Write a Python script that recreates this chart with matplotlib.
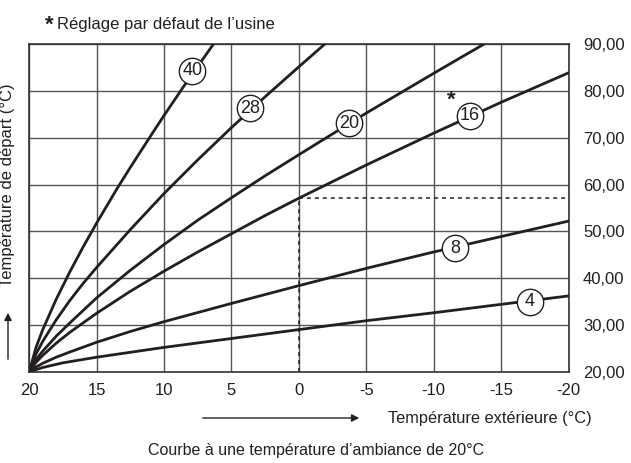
import matplotlib
matplotlib.use("Agg")
import matplotlib.pyplot as plt
from matplotlib.patches import FancyArrowPatch

plt.rcParams['font.family'] = ['Liberation Sans', 'DejaVu Sans']

# Outside temperature (x) and flow temperature (y)
x_40 = [20, 19.5, 19, 18, 17, 16, 15, 13.5, 12.5, 11, 10, 8.5, 7.5, 6.35]
y_40 = [20, 25.2, 29, 35.5, 41.3, 46.7, 51.8, 59.1, 63.7, 70.4, 74.8, 81.2, 85.3, 90]

x_28 = [20, 19.5, 19, 18, 17, 16, 15, 12.5, 10, 7.5, 5, 2.5, 0, -1.9]
y_28 = [20, 23.8, 26.5, 31.1, 35.2, 38.9, 42.3, 50.4, 58.1, 65.3, 72.2, 78.8, 85.2, 90]

x_20 = [20, 19.5, 19, 18, 17, 15, 12.5, 10, 7.5, 5, 2.5, 0, -5, -10, -13.7]
y_20 = [20, 22.6, 24.4, 27.6, 30.4, 35.8, 41.7, 47.2, 52.4, 57.2, 61.9, 66.4, 75.3, 83.8, 90]

x_16 = [20, 19.5, 19, 18, 17, 15, 12.5, 10, 7.5, 5, 2.5, 0, -5, -10, -15, -20]
y_16 = [20, 22, 23.5, 26.1, 28.4, 32.5, 37.2, 41.5, 45.6, 49.5, 53.4, 57.1, 64.2, 71, 77.6, 83.9]

x_8 = [20, 19.5, 19, 18, 17, 15, 12.5, 10, 5, 0, -5, -10, -15, -20]
y_8 = [20, 21, 21.8, 23.1, 24.2, 26.3, 28.6, 30.7, 34.6, 38.4, 42.1, 45.6, 48.9, 52.2]

x_4 = [20, 19, 17.5, 15, 10, 5, 0, -5, -10, -15, -20]
y_4 = [20, 20.9, 21.9, 23.1, 25.2, 27.1, 29, 30.9, 32.6, 34.4, 36.2]

curve_names = ['40', '28', '20', '16', '8', '4']
label_x = [7.9, 3.6, -3.7, -12.7, -11.6, -17.15]
label_y = [84.3, 76.3, 73.1, 74.7, 46.4, 35.0]

# factory default point on curve 16
default_x = 0
default_y = 57.1

x_ticks = [20, 15, 10, 5, 0, -5, -10, -15, -20]
x_ticklabels = ['20', '15', '10', '5', '0', '-5', '-10', '-15', '-20']
y_ticks = [20, 30, 40, 50, 60, 70, 80, 90]
y_ticklabels = ['20,00', '30,00', '40,00', '50,00', '60,00', '70,00', '80,00', '90,00']

ink = '#231f20'

fig = plt.figure(figsize=(6.31, 4.63), dpi=100)
ax = fig.add_axes([0.0464, 0.1972, 0.8546, 0.7071])

curves = [(x_40, y_40), (x_28, y_28), (x_20, y_20), (x_16, y_16), (x_8, y_8), (x_4, y_4)]
for xs, ys in curves:
    ax.plot(xs, ys, color=ink, lw=2.0, solid_joinstyle='round', zorder=3)

# dashed guide for the default setting
ax.plot([default_x, default_x], [20, default_y], color=ink, lw=1.1, ls=(0, (2.6, 2.6)), zorder=2)
ax.plot([default_x, -20], [default_y, default_y], color=ink, lw=1.1, ls=(0, (2.6, 2.6)), zorder=2)

# circled curve numbers
for name, lx, ly in zip(curve_names, label_x, label_y):
    ax.plot(lx, ly, marker='o', ms=19, mfc='white', mec=ink, mew=1.0, zorder=4)
    ax.text(lx, ly, name, ha='center', va='center', fontsize=13, color=ink, zorder=5)
ax.text(-11.34, 78.1, '*', ha='center', va='center', fontsize=16, fontweight='bold', color=ink, zorder=5)

ax.set_xlim(20, -20)
ax.set_ylim(20, 90)
ax.set_xticks(x_ticks)
ax.set_xticklabels(x_ticklabels)
ax.set_yticks(y_ticks)
ax.set_yticklabels(y_ticklabels)
ax.yaxis.tick_right()
ax.tick_params(axis='both', length=0, labelsize=12, colors=ink)
ax.tick_params(axis='x', pad=8)
ax.tick_params(axis='y', pad=10.5)
ax.grid(True, color='#555555', lw=1.0)
for s in ax.spines.values():
    s.set_color('#333333')
    s.set_linewidth(1.2)

# axis captions and arrows
fig.text(388 / 631, 1 - 418 / 463, 'Température extérieure (°C)', ha='left', va='center', fontsize=11.8, color=ink)
fig.add_artist(FancyArrowPatch((200 / 631, 1 - 418 / 463), (362 / 631, 1 - 418 / 463),
               transform=fig.transFigure, arrowstyle='-|>', mutation_scale=11, color=ink, lw=1.0))
fig.text(8 / 631, 1 - 185 / 463, 'Température de départ (°C)', ha='center', va='center', rotation=90,
         fontsize=12, color=ink)
fig.add_artist(FancyArrowPatch((8 / 631, 1 - 362 / 463), (8 / 631, 1 - 310 / 463),
               transform=fig.transFigure, arrowstyle='-|>', mutation_scale=11, color=ink, lw=1.0))

fig.text(316 / 631, 1 - 450 / 463, 'Courbe à une température d’ambiance de 20°C', ha='center', va='center',
         fontsize=11.5, color=ink)
fig.text(45 / 631, 1 - 25 / 463, '*', ha='left', va='center', fontsize=16, fontweight='bold', color=ink)
fig.text(57 / 631, 1 - 25 / 463, 'Réglage par défaut de l’usine', ha='left', va='center', fontsize=12, color=ink)

fig.savefig('out.png', dpi=100)
